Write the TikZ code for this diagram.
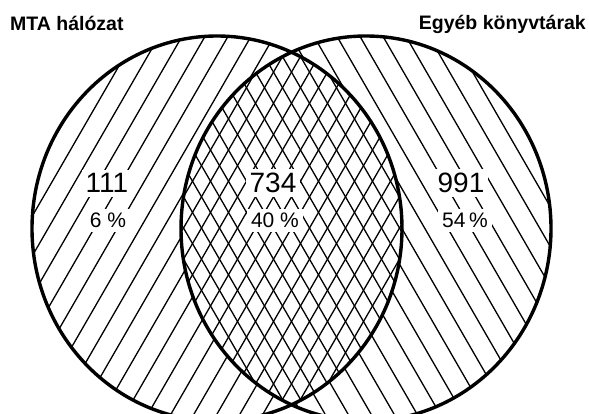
\documentclass[tikz,border=0pt]{standalone}
\usepackage{fontspec}
\setmainfont{Liberation Sans}
\begin{document}
\begin{tikzpicture}[x=1pt,y=-1pt,
  outline/.style={line width=3.4pt},
  hatch/.style={line width=1.3pt},
  title/.style={font=\fontsize{19.5}{24}\selectfont\bfseries, inner sep=0pt},
  num/.style={font=\fontsize{28}{32}\selectfont, fill=white, inner sep=4pt, anchor=base},
  pct/.style={font=\fontsize{21}{25}\selectfont, fill=white, inner sep=4pt, anchor=base}]
\useasboundingbox (0,0) rectangle (589,414);
\fill[white] (0,0) rectangle (589,414);
% left circle hatching
\begin{scope}
  \clip (217,228.5) ellipse [x radius=185pt, y radius=192.5pt];
  \foreach \i in {-8,...,19}
    \draw[hatch] ({94.4+23*\i-125},444.5) -- ({94.4+23*\i+125},11.5);
\end{scope}
% right circle hatching
\begin{scope}
  \clip (366,228.5) ellipse [x radius=185pt, y radius=192.5pt];
  \foreach \i in {-13,...,14}
    \draw[hatch] ({355.6+23*\i-125},11.5) -- ({355.6+23*\i+125},444.5);
\end{scope}
% lens crosshatching
\begin{scope}
  \clip (217,228.5) ellipse [x radius=185pt, y radius=192.5pt];
  \clip (366,228.5) ellipse [x radius=185pt, y radius=192.5pt];
  \fill[white] (100,0) rectangle (480,414);
  \foreach \i in {-14,...,14} {
    \draw[hatch] ({291.5+18*\i-125},444.5) -- ({291.5+18*\i+125},11.5);
    \draw[hatch] ({291.5+18*\i-125},11.5) -- ({291.5+18*\i+125},444.5);
  }
\end{scope}
% outlines
\draw[outline] (217,228.5) ellipse [x radius=185pt, y radius=192.5pt];
\draw[outline] (366,228.5) ellipse [x radius=185pt, y radius=192.5pt];
% titles
\node[title, anchor=base west] (tmta) at (10,31) {MTA hálózat};
\node[title, anchor=base east] (tegyeb) at (586,30) {Egyéb könyvtárak};
% labels
\node[num] (n111) at (107,193) {111};
\node[pct] (p6) at (108,228) {6 \%};
\node[num] (n734) at (273,193) {734};
\node[pct] (p40) at (275,228) {40 \%};
\node[num] (n991) at (461,193) {991};
\node[pct] (p54) at (465,228) {54\,\%};
\end{tikzpicture}
\end{document}
